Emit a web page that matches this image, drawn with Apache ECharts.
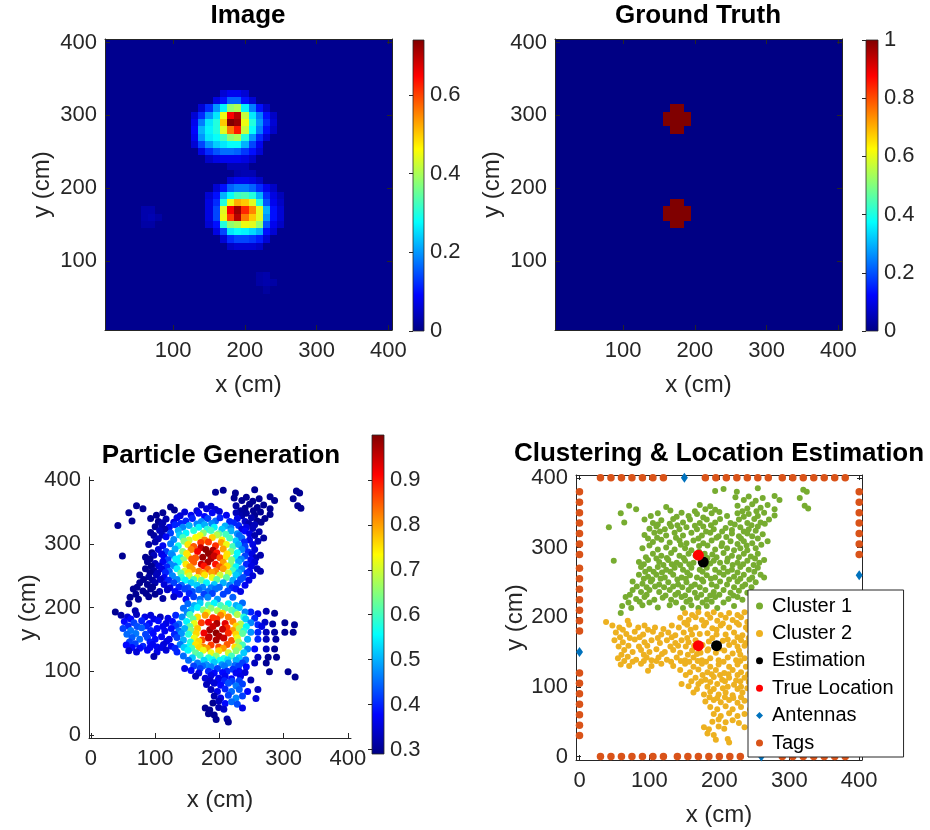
<!DOCTYPE html>
<html><head><meta charset="utf-8">
<script src="https://cdn.jsdelivr.net/npm/echarts@6/dist/echarts.min.js"></script>
<style>html,body{margin:0;padding:0;background:#fff}#c{width:930px;height:830px}</style>
</head><body><div id="c"></div>
<script>
// ---------------- data ----------------
const imageBackground = 0.008;
const imageMax = 0.74;
// [x(cm), y(cm), intensity] for cells that differ from background (cell size 10 cm)
const imageCells = [
 [170,330,.06],[180,330,.08],[190,330,.08],[200,330,.06],
 [160,320,.07],[170,320,.1],[180,320,.16],[190,320,.16],[200,320,.1],[210,320,.06],
 [140,310,.06],[150,310,.12],[160,310,.2],[170,310,.27],[180,310,.38],[190,310,.4],[200,310,.27],[210,310,.18],[220,310,.1],[230,310,.05],
 [130,300,.06],[140,300,.12],[150,300,.2],[160,300,.26],[170,300,.45],[180,300,.65],[190,300,.7],[200,300,.42],[210,300,.26],[220,300,.18],[230,300,.1],[240,300,.05],
 [130,290,.08],[140,290,.18],[150,290,.26],[160,290,.3],[170,290,.5],[180,290,.74],[190,290,.72],[200,290,.45],[210,290,.3],[220,290,.2],[230,290,.12],[240,290,.06],
 [130,280,.09],[140,280,.22],[150,280,.27],[160,280,.3],[170,280,.44],[180,280,.56],[190,280,.63],[200,280,.42],[210,280,.28],[220,280,.18],[230,280,.1],[240,280,.05],
 [130,270,.08],[140,270,.2],[150,270,.26],[160,270,.28],[170,270,.32],[180,270,.38],[190,270,.4],[200,270,.3],[210,270,.2],[220,270,.12],[230,270,.06],
 [130,260,.06],[140,260,.14],[150,260,.2],[160,260,.24],[170,260,.26],[180,260,.28],[190,260,.28],[200,260,.22],[210,260,.14],[220,260,.08],
 [140,250,.07],[150,250,.12],[160,250,.15],[170,250,.17],[180,250,.17],[190,250,.16],[200,250,.13],[210,250,.1],[220,250,.06],
 [150,240,.05],[160,240,.07],[170,240,.08],[180,240,.08],[190,240,.08],[200,240,.07],[210,240,.05],
 [180,230,.035],[190,230,.035],[200,230,.035],[190,220,.03],[200,220,.035],[210,220,.035],
 [180,210,.06],[190,210,.08],[200,210,.08],[210,210,.07],[220,210,.05],
 [160,200,.06],[170,200,.1],[180,200,.16],[190,200,.18],[200,200,.18],[210,200,.16],[220,200,.12],[230,200,.08],[240,200,.05],
 [150,190,.06],[160,190,.1],[170,190,.22],[180,190,.28],[190,190,.32],[200,190,.33],[210,190,.3],[220,190,.22],[230,190,.12],[240,190,.07],[250,190,.04],
 [150,180,.07],[160,180,.12],[170,180,.3],[180,180,.45],[190,180,.52],[200,180,.5],[210,180,.44],[220,180,.3],[230,180,.15],[240,180,.08],[250,180,.05],
 [150,170,.07],[160,170,.14],[170,170,.44],[180,170,.65],[190,170,.72],[200,170,.62],[210,170,.55],[220,170,.44],[230,170,.22],[240,170,.1],[250,170,.06],
 [150,160,.07],[160,160,.14],[170,160,.45],[180,160,.6],[190,160,.7],[200,160,.56],[210,160,.5],[220,160,.44],[230,160,.2],[240,160,.1],[250,160,.06],
 [150,150,.06],[160,150,.1],[170,150,.3],[180,150,.38],[190,150,.4],[200,150,.45],[210,150,.44],[220,150,.38],[230,150,.15],[240,150,.08],[250,150,.05],
 [160,140,.07],[170,140,.14],[180,140,.26],[190,140,.28],[200,140,.27],[210,140,.25],[220,140,.22],[230,140,.1],[240,140,.06],
 [170,130,.06],[180,130,.12],[190,130,.14],[200,130,.14],[210,130,.13],[220,130,.11],[230,130,.06],
 [180,120,.05],[190,120,.06],[200,120,.06],[210,120,.06],[220,120,.05],
 [60,170,.03],[70,170,.03],[60,160,.03],[70,160,.035],[80,160,.025],[60,150,.025],[70,150,.025],
 [220,80,.025],[230,80,.03],[220,70,.025],[230,70,.03],[240,70,.025],[230,60,.02]
];
const truthBackground = 0;
const truthValue = 1;
const truthCells = [
 [170,310],[180,310],[160,300],[170,300],[180,300],[190,300],[160,290],[170,290],[180,290],[190,290],[170,280],[180,280],
 [170,180],[180,180],[160,170],[170,170],[180,170],[190,170],[160,160],[170,160],[180,160],[190,160],[170,150],[180,150]
];
// particles: [x, y, weight]
const cluster1Points = [
 [194,381,.3],[206,384,.3],[225,380,.3],[255,385,.3],[320,383,.3],[325,380,.3],
 [223,372,.3],[235,368,.3],[242,373,.3],[252,367,.3],[262,371,.3],[279,374,.3],[286,368,.3],[315,371,.3],
 [71,360,.3],[81,355,.3],[124,358,.3],[172,361,.33],[180,355,.35],[187,359,.34],[194,354,.34],[226,360,.31],[240,356,.3],[247,362,.3],[259,357,.3],[269,361,.3],[279,355,.3],[322,360,.3],[327,356,.3],
 [130,353,.3],[165,352,.35],[200,351,.35],[233,352,.31],[253,352,.3],
 [59,349,.3],[102,345,.3],[112,349,.3],[139,344,.35],[146,350,.35],[156,345,.37],[168,348,.37],[177,343,.38],[189,349,.37],[211,345,.37],[226,349,.33],[235,344,.32],[242,348,.31],[255,345,.3],[264,350,.3],[279,346,.3],
 [64,336,.3],[93,340,.3],[105,335,.3],[117,339,.32],[129,334,.36],[134,341,.36],[148,336,.4],[158,340,.4],[172,335,.47],[182,340,.42],[194,336,.45],[201,341,.4],[216,335,.4],[228,340,.36],[240,335,.34],[250,341,.32],[259,336,.3],[271,340,.3],
 [112,333,.32],[140,332,.4],[165,331,.47],[188,332,.47],[222,333,.4],[246,332,.32],[265,334,.3],
 [42,329,.3],[100,327,.3],[110,330,.32],[122,326,.37],[131,330,.4],[143,326,.47],[153,329,.5],[168,326,.55],[177,330,.5],[192,326,.55],[209,328,.5],[218,325,.47],[230,329,.4],[242,326,.36],[255,330,.33],
 [115,323,.32],[181,323,.58],[204,323,.52],[235,323,.36],[252,324,.33],
 [93,318,.3],[107,321,.33],[124,317,.42],[136,321,.5],[148,317,.55],[160,321,.58],[175,317,.65],[187,321,.6],[199,316,.62],[218,320,.5],[228,316,.48],[240,320,.38],[247,316,.36],[262,319,.32],
 [98,313,.31],[111,314,.33],[138,314,.52],[170,313,.72],[196,314,.68],[210,315,.6],[231,313,.45],[255,313,.32],
 [105,308,.33],[117,311,.37],[129,307,.47],[143,310,.6],[153,306,.7],[163,310,.73],[177,306,.82],[189,310,.76],[204,306,.74],[216,309,.6],[226,305,.52],[235,309,.45],[247,306,.36],[269,309,.31],
 [100,303,.32],[145,304,.65],[171,302,.87],[183,303,.87],[203,302,.8],[239,303,.4],[260,304,.33],
 [90,299,.31],[112,297,.37],[124,300,.46],[136,297,.57],[151,299,.75],[160,296,.85],[194,297,.88],[211,299,.72],[221,296,.6],[230,299,.5],[240,296,.42],[252,299,.36],
 [171,294,.95],[179,291,.99],[190,290,.97],[183,285,.99],[196,286,.9],[174,279,.98],[187,277,.97],
 [105,291,.35],[117,288,.42],[131,292,.5],[143,288,.65],[156,291,.82],[166,288,.92],[206,292,.8],[218,288,.65],[235,291,.47],[245,287,.4],[255,291,.35],
 [95,286,.3],[110,284,.36],[125,285,.48],[149,285,.75],[212,284,.75],[228,286,.55],[251,284,.36],
 [49,281,.3],[85,279,.3],[98,282,.33],[114,279,.37],[127,282,.47],[139,278,.55],[151,281,.75],[163,278,.85],[192,281,.95],[201,278,.85],[211,280,.75],[226,278,.55],[240,281,.42],[257,278,.33],[264,282,.32],
 [92,276,.3],[120,275,.42],[132,276,.55],[144,275,.65],[157,276,.85],[219,275,.65],[234,276,.47],[249,275,.37],
 [88,272,.3],[100,269,.33],[112,272,.37],[124,268,.47],[136,271,.55],[148,268,.75],[160,271,.85],[172,268,.95],[182,271,.97],[194,268,.9],[206,271,.8],[218,268,.65],[230,272,.5],[242,268,.4],[255,271,.35],
 [94,265,.3],[106,265,.35],[118,264,.4],[130,265,.47],[154,264,.8],[176,265,.9],[200,264,.85],[212,265,.75],[226,264,.55],[250,265,.36],
 [85,261,.3],[98,258,.31],[110,261,.36],[122,257,.45],[134,261,.55],[146,257,.7],[158,260,.8],[168,257,.82],[182,260,.85],[194,257,.82],[206,261,.8],[221,258,.6],[235,261,.47],[247,257,.37],[259,261,.33],[264,257,.32],
 [92,255,.3],[104,254,.33],[116,255,.4],[140,254,.62],[152,255,.75],[175,254,.8],[188,255,.8],[214,254,.7],[230,255,.5],[243,254,.4],
 [76,251,.3],[90,248,.31],[102,251,.33],[114,247,.37],[127,250,.47],[141,247,.58],[153,250,.7],[165,247,.72],[177,251,.75],[189,247,.72],[201,251,.7],[211,247,.62],[226,251,.52],[237,247,.43],[252,250,.35],
 [82,244,.3],[96,243,.31],[108,244,.34],[121,243,.4],[134,244,.47],[147,243,.55],[160,244,.6],[172,243,.62],[196,244,.62],[221,243,.5],[233,244,.43],[246,243,.36],
 [76,239,.3],[88,236,.3],[100,239,.32],[114,236,.35],[129,239,.42],[141,235,.45],[156,239,.52],[165,235,.52],[180,239,.55],[192,236,.52],[206,239,.5],[216,235,.47],[228,238,.42],[240,235,.37],
 [72,232,.3],[96,232,.3],[123,231,.36],[137,232,.4],[151,231,.43],[174,232,.47],[187,231,.47],[200,232,.45],[220,231,.4],
 [66,229,.3],[81,226,.3],[93,229,.3],[107,225,.32],[119,228,.34],[131,225,.38],[146,229,.42],[158,225,.43],[168,228,.45],[182,225,.45],[194,229,.45],[213,226,.42],[226,229,.39],[233,225,.36],
 [70,221,.3],[86,222,.3],[100,221,.3],[138,221,.37],[153,222,.4],[176,221,.42],[189,222,.42],[206,221,.42],
 [61,216,.3],[74,213,.3],[90,217,.3],[112,214,.31],[129,217,.34],[148,213,.38],[160,217,.42],[170,213,.45],[182,216,.47],[197,213,.48],[221,216,.44],
 [59,206,.3]
];
const cluster2Points = [
 [151,206,.45],[161,203,.5],[170,207,.52],[183,204,.6],[192,207,.55],[202,203,.6],[214,206,.55],[226,203,.5],[236,207,.45],
 [144,199,.45],[156,196,.52],[166,200,.55],[175,196,.65],[187,199,.65],[197,195,.68],[209,199,.63],[219,196,.62],[231,200,.52],
 [38,193,.3],[69,195,.32],[249,193,.4],[260,190,.36],[273,194,.32],[286,191,.3],
 [150,192,.47],[181,192,.72],[205,191,.76],[225,192,.6],[240,193,.47],
 [47,188,.32],[57,185,.35],[71,189,.33],[84,185,.36],[93,188,.35],[108,185,.33],[132,188,.4],[142,185,.47],[154,189,.6],[166,185,.75],[178,188,.8],[190,184,.88],[202,188,.82],[214,185,.82],[228,189,.68],[238,185,.58],
 [62,182,.38],[98,182,.36],[120,183,.36],[159,182,.62],[196,182,.88],[241,182,.52],[255,183,.4],
 [52,178,.38],[67,176,.42],[79,179,.4],[91,175,.38],[105,179,.38],[117,175,.36],[127,178,.38],[137,174,.45],[149,178,.55],[161,175,.72],[172,176,.87],[183,177,.92],[196,175,.97],[209,175,.93],[221,178,.82],[233,174,.68],
 [249,176,.47],[260,173,.4],[271,177,.34],[283,174,.31],[302,176,.3],[317,173,.3],
 [58,171,.4],[72,170,.43],[86,171,.4],[112,170,.37],[132,171,.42],[154,170,.62],[226,171,.76],[242,170,.55],[266,170,.36],
 [50,167,.42],[62,164,.46],[79,168,.44],[93,164,.4],[103,167,.38],[115,163,.37],[125,167,.38],[137,163,.45],[146,167,.5],[156,164,.65],[166,167,.77],[185,165,.98],[212,168,.88],[221,164,.8],[231,167,.68],[238,163,.58],
 [184,154,.97],[195,160,.99],[205,166,.95],[176,160,.92],[190,170,.95],[200,155,.97],[214,160,.88],
 [249,161,.48],[260,161,.4],[273,161,.33],[286,161,.31],[302,161,.3],[315,161,.3],
 [56,158,.45],[70,159,.46],[85,158,.42],[97,159,.38],[130,158,.4],[141,159,.48],[152,158,.58],[164,159,.76],[226,158,.76],[236,159,.62],
 [64,153,.44],[76,150,.45],[88,153,.42],[100,150,.38],[110,154,.37],[122,150,.36],[134,153,.42],[144,149,.5],[161,152,.72],[173,149,.86],[183,152,.95],[195,149,.97],[207,152,.95],[219,148,.85],[228,152,.72],
 [244,150,.5],[260,150,.4],[273,150,.33],[288,150,.31],
 [60,146,.42],[92,146,.39],[118,147,.36],[155,146,.58],[168,147,.76],[230,146,.67],
 [55,141,.38],[69,143,.42],[81,139,.4],[96,142,.37],[103,138,.37],[113,142,.35],[125,139,.37],[139,142,.46],[151,138,.56],[163,142,.75],[175,138,.82],[187,141,.87],[199,138,.86],[212,142,.85],[224,138,.75],[236,141,.6],
 [244,135,.47],[255,135,.38],[273,135,.33],[286,135,.3],
 [64,137,.38],[76,136,.38],[92,137,.37],[110,137,.36],[131,136,.4],[145,137,.52],[157,136,.6],[169,137,.76],[181,136,.8],[206,136,.8],[230,137,.68],
 [59,132,.34],[71,130,.35],[88,133,.37],[103,130,.36],[117,133,.35],[134,130,.4],[151,133,.55],[163,129,.62],[175,133,.72],[187,129,.72],[199,132,.76],[214,129,.7],[226,132,.65],[238,129,.52],
 [98,123,.32],[144,124,.45],[158,121,.52],[170,125,.6],[183,121,.58],[195,124,.65],[207,120,.58],[219,124,.6],[231,121,.52],[260,122,.33],[276,122,.3],[289,122,.3],
 [152,117,.45],[176,117,.53],[189,118,.56],[201,117,.56],[213,118,.53],[226,117,.5],[241,118,.45],
 [166,113,.46],[180,110,.48],[192,114,.52],[204,110,.48],[214,113,.48],[224,109,.45],[236,113,.42],[255,113,.33],[273,113,.3],
 [160,108,.42],[174,108,.45],[187,107,.47],[208,108,.46],[230,108,.42],[242,107,.38],
 [146,104,.36],[156,101,.38],[170,104,.42],[183,100,.4],[197,104,.42],[212,100,.4],[221,103,.41],[231,100,.38],
 [278,99,.3],[307,99,.3],[318,91,.3],[249,86,.32],
 [168,97,.36],[192,97,.38],[205,98,.38],[226,97,.37],[240,98,.35],
 [163,92,.33],[178,89,.35],[187,93,.36],[199,89,.36],[209,92,.37],[219,88,.38],[233,92,.36],
 [186,85,.34],[197,84,.37],[208,85,.4],[220,84,.42],[231,85,.42],
 [180,79,.33],[192,81,.35],[202,78,.38],[214,81,.43],[226,77,.46],[236,80,.42],
 [187,71,.33],[197,68,.36],[209,72,.4],[219,68,.45],[231,71,.44],[244,68,.38],[260,71,.33],
 [192,61,.32],[202,58,.36],[214,62,.42],[226,58,.47],[236,61,.42],[257,57,.35],
 [190,50,.3],[199,53,.33],[209,49,.38],[219,52,.45],[228,48,.43],
 [178,42,.3],[185,39,.3],[199,43,.32],[207,40,.34],[236,42,.36],
 [183,33,.3],[192,31,.3],[195,24,.3],[212,25,.32],[214,20,.3]
];
const weightMin = 0.29, weightMax = 1;
const estimation = [[177,279],[196,159]];
const trueLocation = [[170,289],[170,159]];
const antennas = [[150,400],[260,0],[0,150],[400,260]];
const tagsTopX = [30,45,60,75,90,105,120,180,195,210,225,240,255,270,290,305,320,335,350,365,380];
const tagsBottomX = [30,45,60,75,90,105,120,140,155,170,185,200,215,230,290,305,320,335,350,365,380];
const tagsLeftY = [30,45,60,75,90,105,120,180,195,210,225,240,255,270,290,305,320,335,350,365,380];
const tagsRightY = [30,45,60,75,90,105,120,140,155,170,185,200,215,230,290,305,320,335,350,365,380];
const imageTicks = [100,200,300,400];
const scatterTicks = [0,100,200,300,400];
const cbImageTicks = [0,0.2,0.4,0.6];
const cbTruthTicks = [0,0.2,0.4,0.6,0.8,1];
const cbWeightTicks = [0.3,0.4,0.5,0.6,0.7,0.8,0.9];

// ---------------- build ----------------
const FONT = '"Liberation Sans", Arial, Helvetica, sans-serif';
const AX = '#262626';
const JET = ['#000084','#0004FF','#0083FF','#02FFFD','#81FF7E','#FFFC00','#FF7F00','#FF0000','#800000'];

function buildGrid(bg, cells) {
  const m = new Map(cells.map(c => [c[0] + ',' + c[1], c[2]]));
  const out = [];
  for (let x = 10; x <= 400; x += 10)
    for (let y = 10; y <= 400; y += 10) {
      const k = x + ',' + y;
      out.push([x, y, m.has(k) ? m.get(k) : bg]);
    }
  return out;
}
const imageData = buildGrid(imageBackground, imageCells);
const truthData = buildGrid(truthBackground, truthCells.map(c => [c[0], c[1], truthValue]));
const particleData = cluster1Points.concat(cluster2Points);
const tagsData = [].concat(
  tagsTopX.map(x => [x, 400]), tagsBottomX.map(x => [x, 0]),
  tagsLeftY.map(y => [0, y]), tagsRightY.map(y => [400, y]));

function mkX(grid, min, max, ticks, extra) {
  return Object.assign({
    gridIndex: grid, type: 'value', min: min, max: max, position: 'bottom', z: 5,
    axisLine: {show: true, onZero: false, lineStyle: {color: AX, width: 1}},
    axisTick: {show: true, inside: true, length: 5, customValues: ticks, lineStyle: {color: AX, width: 1}},
    axisLabel: {show: true, customValues: ticks, fontSize: 22, color: AX, fontFamily: FONT, margin: 10},
    splitLine: {show: false}
  }, extra || {});
}
function mkY(grid, min, max, ticks, extra) {
  return Object.assign({
    gridIndex: grid, type: 'value', min: min, max: max, position: 'left', z: 5,
    axisLine: {show: true, onZero: false, lineStyle: {color: AX, width: 1}},
    axisTick: {show: true, inside: true, length: 5, customValues: ticks, lineStyle: {color: AX, width: 1}},
    axisLabel: {show: true, customValues: ticks, fontSize: 22, color: AX, fontFamily: FONT, margin: 8},
    splitLine: {show: false}
  }, extra || {});
}
const nameStyle = {fontSize: 24, color: AX, fontFamily: FONT};
function xName(gap) { return {name: 'x (cm)', nameLocation: 'middle', nameGap: gap, nameTextStyle: nameStyle}; }
function yName(gap) { return {name: 'y (cm)', nameLocation: 'middle', nameGap: gap, nameTextStyle: nameStyle}; }
const noLabel = {axisLabel: {show: false}};
function cbX(grid) { return {gridIndex: grid, type: 'value', min: 0, max: 1, show: false}; }
function cbY(grid, min, max, ticks) {
  return {gridIndex: grid, type: 'value', min: min, max: max, position: 'right', z: 5,
    axisLine: {show: false},
    axisTick: {show: true, inside: true, length: 4, customValues: ticks, lineStyle: {color: AX, width: 1}},
    axisLabel: {show: true, customValues: ticks, fontSize: 22, color: AX, fontFamily: FONT, margin: 6},
    splitLine: {show: false}};
}

function cellRender(params, api) {
  const x = api.value(0), y = api.value(1);
  const a = api.coord([x - 5, y - 5]), b = api.coord([x + 5, y + 5]);
  const x0 = Math.round(a[0]), x1 = Math.round(b[0]);
  const y0 = Math.round(b[1]), y1 = Math.round(a[1]);
  return {type: 'rect', shape: {x: x0, y: y0, width: x1 - x0, height: y1 - y0},
    style: {fill: api.visual('color')}};
}
const jetGradient = () => new echarts.graphic.LinearGradient(0, 1, 0, 0,
  JET.map((c, i) => ({offset: i / (JET.length - 1), color: c})));
function cbRender(params, api) {
  const lo = api.coord([0, api.value(0)]);
  const hi = api.coord([1, api.value(1)]);
  return {type: 'rect', shape: {x: lo[0], y: hi[1], width: hi[0] - lo[0], height: lo[1] - hi[1]},
    style: {fill: jetGradient(), stroke: AX, lineWidth: 0.8}};
}
const titleStyle = {fontSize: 26, fontWeight: 'bold', color: '#000', fontFamily: FONT};

const option = {
  backgroundColor: '#fff',
  animation: false,
  textStyle: {fontFamily: FONT},
  title: [
    {text: 'Image', left: 248, top: 3, textAlign: 'center', padding: 0, textStyle: titleStyle},
    {text: 'Ground Truth', left: 698, top: 3, textAlign: 'center', padding: 0, textStyle: titleStyle},
    {text: 'Particle Generation', left: 221, top: 443, textAlign: 'center', padding: 0, textStyle: titleStyle},
    {text: 'Clustering & Location Estimation', left: 719, top: 441, textAlign: 'center', padding: 0, textStyle: titleStyle}
  ],
  grid: [
    {left: 105, top: 39, width: 287, height: 291},
    {left: 555, top: 39, width: 287, height: 291},
    {left: 89, top: 477, width: 262, height: 261},
    {left: 576, top: 475, width: 286, height: 285},
    {left: 413, top: 40, width: 11, height: 291},
    {left: 866, top: 40, width: 12, height: 291},
    {left: 372, top: 435, width: 12, height: 319}
  ],
  xAxis: [
    mkX(0, 5, 405, imageTicks, xName(43)),
    mkX(0, 5, 405, imageTicks, Object.assign({position: 'top'}, noLabel)),
    mkX(1, 5, 405, imageTicks, xName(43)),
    mkX(1, 5, 405, imageTicks, Object.assign({position: 'top'}, noLabel)),
    mkX(2, -3, 405, scatterTicks, Object.assign({z: 1}, xName(50))),
    mkX(3, -5, 404, scatterTicks, Object.assign({z: 1}, xName(43))),
    mkX(3, -5, 404, scatterTicks, Object.assign({position: 'top', z: 1}, noLabel)),
    cbX(4), cbX(5), cbX(6)
  ],
  yAxis: [
    mkY(0, 5, 405, imageTicks, yName(51)),
    mkY(0, 5, 405, imageTicks, Object.assign({position: 'right'}, noLabel)),
    mkY(1, 5, 405, imageTicks, yName(51)),
    mkY(1, 5, 405, imageTicks, Object.assign({position: 'right'}, noLabel)),
    mkY(2, -5, 405, scatterTicks, Object.assign({z: 1}, yName(49))),
    mkY(3, -5, 404, scatterTicks, Object.assign({z: 1}, yName(44))),
    mkY(3, -5, 404, scatterTicks, Object.assign({position: 'right', z: 1}, noLabel)),
    cbY(4, 0, imageMax, cbImageTicks),
    cbY(5, 0, 1, cbTruthTicks),
    cbY(6, weightMin, weightMax, cbWeightTicks)
  ],
  visualMap: [
    {type: 'continuous', seriesIndex: 0, dimension: 2, min: 0, max: imageMax, show: false, inRange: {color: JET}},
    {type: 'continuous', seriesIndex: 1, dimension: 2, min: 0, max: 1, show: false, inRange: {color: JET}},
    {type: 'continuous', seriesIndex: 2, dimension: 2, min: weightMin, max: weightMax, show: false, inRange: {color: JET}}
  ],
  legend: {
    left: 748, top: 590, orient: 'vertical',
    data: [
      {name: 'Cluster 1', icon: 'circle'}, {name: 'Cluster 2', icon: 'circle'},
      {name: 'Estimation', icon: 'circle'}, {name: 'True Location', icon: 'circle'},
      {name: 'Antennas', icon: 'diamond'}, {name: 'Tags', icon: 'circle'}
    ],
    itemWidth: 7, itemHeight: 7, itemGap: 5.4,
    padding: [5, 10, 3, 8],
    backgroundColor: '#fff', borderColor: AX, borderWidth: 1, borderRadius: 0,
    textStyle: {fontSize: 20, color: '#000', fontFamily: FONT, lineHeight: 22, padding: [0, 0, 0, 4]},
    selectedMode: false, z: 10
  },
  series: [
    {type: 'custom', name: 'image', xAxisIndex: 0, yAxisIndex: 0, data: imageData, renderItem: cellRender, clip: true, z: 1, encode: {x: 0, y: 1}},
    {type: 'custom', name: 'truth', xAxisIndex: 2, yAxisIndex: 2, data: truthData, renderItem: cellRender, clip: true, z: 1, encode: {x: 0, y: 1}},
    {type: 'scatter', name: 'particles', xAxisIndex: 4, yAxisIndex: 4, data: particleData, symbolSize: 7, itemStyle: {opacity: 1}},
    {type: 'scatter', name: 'Cluster 1', xAxisIndex: 5, yAxisIndex: 5, data: cluster1Points, symbolSize: 6, itemStyle: {color: '#77AC30', opacity: 1}},
    {type: 'scatter', name: 'Cluster 2', xAxisIndex: 5, yAxisIndex: 5, data: cluster2Points, symbolSize: 6, itemStyle: {color: '#EDB120', opacity: 1}},
    {type: 'scatter', name: 'Estimation', xAxisIndex: 5, yAxisIndex: 5, data: estimation, symbolSize: 11, itemStyle: {color: '#000000', opacity: 1}},
    {type: 'scatter', name: 'True Location', xAxisIndex: 5, yAxisIndex: 5, data: trueLocation, symbolSize: 11, itemStyle: {color: '#FF0000', opacity: 1}},
    {type: 'scatter', name: 'Antennas', xAxisIndex: 5, yAxisIndex: 5, data: antennas, symbol: 'diamond', symbolSize: [7, 10], itemStyle: {color: '#0072BD', opacity: 1}},
    {type: 'scatter', name: 'Tags', xAxisIndex: 5, yAxisIndex: 5, data: tagsData, symbolSize: 7.5, itemStyle: {color: '#D95319', opacity: 1}},
    {type: 'custom', name: 'cb1', xAxisIndex: 7, yAxisIndex: 7, data: [[0, imageMax]], renderItem: cbRender, silent: true},
    {type: 'custom', name: 'cb2', xAxisIndex: 8, yAxisIndex: 8, data: [[0, 1]], renderItem: cbRender, silent: true},
    {type: 'custom', name: 'cb3', xAxisIndex: 9, yAxisIndex: 9, data: [[weightMin, weightMax]], renderItem: cbRender, silent: true}
  ]
};
const chart = echarts.init(document.getElementById('c'), null, {renderer: 'canvas'});
chart.setOption(option);
</script></body></html>
